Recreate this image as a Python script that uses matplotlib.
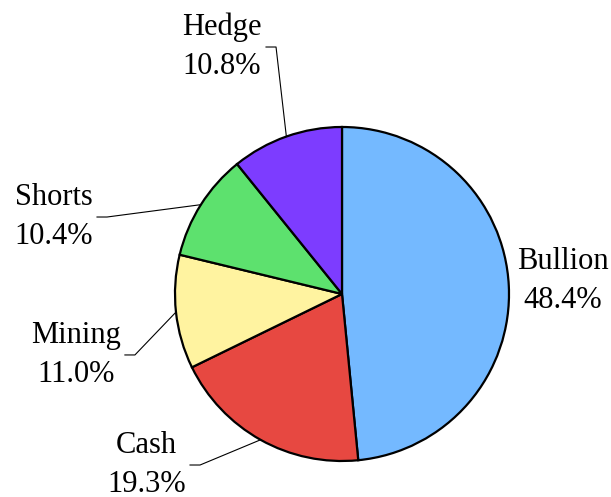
import numpy as np
import matplotlib.pyplot as plt

labels = ['Bullion', 'Cash', 'Mining', 'Shorts', 'Hedge']
shares = [48.4, 19.3, 11.0, 10.4, 10.8]
colors = ['#74B9FF', '#E74841', '#FFF3A0', '#5DE16E', '#7D3CFF']

# label layout (data units, radius = 1): elbow point of the leader, or None
elbows = [None, (-0.85, -1.024), (-1.24, -0.365), (-1.407, 0.461), (-0.395, 1.479)]

plt.rcParams['font.family'] = ['Liberation Serif', 'DejaVu Serif']

fig = plt.figure(figsize=(6.11, 4.97), dpi=100)
ax = fig.add_axes([0, 0, 1, 1])

wedges, _ = ax.pie(shares, colors=colors, startangle=90, counterclock=False,
                   radius=1, wedgeprops=dict(edgecolor='black', linewidth=1.6))

total = sum(shares)
cum = np.cumsum([0] + shares[:-1])
for i, (lab, val) in enumerate(zip(labels, shares)):
    txt = f'{lab}\n{val:.1f}%'
    if elbows[i] is None:
        ax.text(1.048, 0.078, txt, ha='left', va='center', fontsize=22,
                multialignment='center', linespacing=1.45)
        continue
    mid = (cum[i] + val / 2) / total * 360
    ang = np.deg2rad(90 - mid)
    x0, y0 = np.cos(ang), np.sin(ang)
    ex, ey = elbows[i]
    ax.plot([x0, ex, ex - 0.06], [y0, ey, ey], color='black', lw=0.8)
    ax.text(ex - 0.085, ey, txt, ha='right', va='center', fontsize=22,
            multialignment='center', linespacing=1.45)

ax.set_xlim(-342 / 167, (611 - 342) / 167)
ax.set_ylim(-203 / 167, 294 / 167)
ax.set_aspect('equal')
ax.axis('off')

fig.savefig('out.png', dpi=100)
